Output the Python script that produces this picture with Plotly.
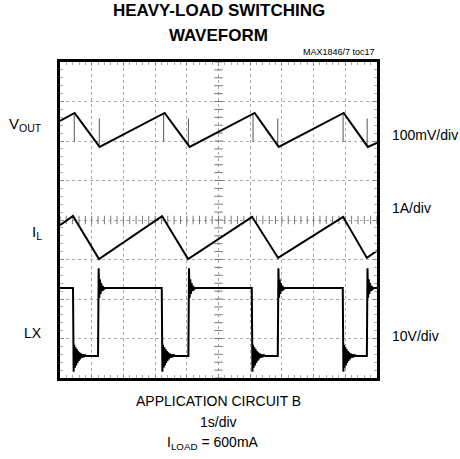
import numpy as np
import plotly.graph_objects as go

# ---------------- data (time in s = screen divisions, levels in screen divisions) ----------------
vout_t = [0.00, 0.46, 1.25, 3.30, 4.09, 6.14, 6.90, 8.95, 9.71, 10.00]
vout_y = [6.51, 6.71, 5.85, 6.71, 5.85, 6.71, 5.85, 6.71, 5.85, 5.95]

spike_t = [0.45, 1.24, 3.27, 4.05, 6.09, 6.87, 8.93, 9.69]
spike_from = [6.68, 5.90, 6.68, 5.90, 6.68, 5.90, 6.68, 5.90]
spike_to = [5.98, 6.57, 5.98, 6.57, 5.98, 6.57, 5.98, 6.57]

il_t = [0.00, 0.41, 1.23, 3.22, 4.04, 6.06, 6.88, 8.93, 9.68, 10.00]
il_y = [3.87, 4.10, 3.01, 4.10, 3.01, 4.08, 3.04, 4.08, 3.04, 3.22]

lx_high = 2.28
lx_low = 0.56
lx_fall_t = [0.41, 3.21, 6.05, 8.92]
lx_rise_t = [1.20, 4.05, 6.87, 9.68]

ring_fall_dt = [0.00, 0.02, 0.04, 0.06, 0.08, 0.10, 0.12, 0.14, 0.16, 0.18, 0.20, 0.23, 0.26, 0.29, 0.32, 0.36, 0.40]
ring_fall_dy = [-0.40, 0.28, -0.30, 0.22, -0.24, 0.17, -0.18, 0.12, -0.13, 0.09, -0.09, 0.06, -0.05, 0.04, -0.03, 0.02, 0.00]
ring_rise_dt = [0.00, 0.02, 0.04, 0.06, 0.08, 0.10, 0.13, 0.16, 0.20]
ring_rise_dy = [0.50, -0.25, 0.22, -0.15, 0.12, -0.08, 0.05, -0.03, 0.00]

# ---------------- build LX trace ----------------
lx_x, lx_y = [0.0], [lx_high]
for tf, tr in zip(lx_fall_t, lx_rise_t):
    lx_x.append(tf); lx_y.append(lx_high)
    for dt, dy in zip(ring_fall_dt, ring_fall_dy):
        lx_x.append(tf + 0.02 + dt); lx_y.append(lx_low + dy)
    lx_x.append(tr); lx_y.append(lx_low)
    for dt, dy in zip(ring_rise_dt, ring_rise_dy):
        if tr + 0.02 + dt <= 10:
            lx_x.append(tr + 0.02 + dt); lx_y.append(lx_high + dy)
lx_x.append(10.0); lx_y.append(lx_high)

sx, sy = [], []
for t, a, b in zip(spike_t, spike_from, spike_to):
    sx += [t, t, None]; sy += [a, b, None]

# ---------------- figure ----------------
W, H = 460, 459
L, R, T, B = 60, 377, 62, 378
fig = go.Figure()

# graticule centre-line ticks
ct = np.arange(0, 10.001, 0.2)
fig.add_trace(go.Scatter(x=ct, y=[4] * len(ct), mode="markers",
                         marker=dict(symbol="line-ns", size=6, line=dict(width=1, color="#777")),
                         hoverinfo="skip", showlegend=False))
cy = np.arange(0, 8.001, 0.2)
fig.add_trace(go.Scatter(x=[5] * len(cy), y=cy, mode="markers",
                         marker=dict(symbol="line-ew", size=6, line=dict(width=1, color="#777")),
                         hoverinfo="skip", showlegend=False))

fig.add_trace(go.Scatter(x=sx, y=sy, mode="lines", line=dict(color="#555", width=1),
                         showlegend=False, hoverinfo="skip"))
fig.add_trace(go.Scatter(x=vout_t, y=vout_y, mode="lines", line=dict(color="black", width=2),
                         showlegend=False))
fig.add_trace(go.Scatter(x=il_t, y=il_y, mode="lines", line=dict(color="black", width=2),
                         showlegend=False))
fig.add_trace(go.Scatter(x=lx_x, y=lx_y, mode="lines", line=dict(color="black", width=2),
                         showlegend=False))

axis_common = dict(showticklabels=False, showgrid=True, gridcolor="#aaa", griddash="dot",
                   gridwidth=1, zeroline=False, showline=True, linecolor="black", linewidth=3,
                   mirror="allticks", ticks="inside", ticklen=4, tickcolor="#888",
                   minor=dict(ticks="inside", ticklen=3, tickcolor="#aaa", showgrid=False))
fig.update_xaxes(range=[0, 10], dtick=1, **axis_common)
fig.update_yaxes(range=[0, 8], dtick=1, **axis_common)
fig.update_xaxes(minor_dtick=0.2)
fig.update_yaxes(minor_dtick=0.2)

pw, ph = R - L, B - T
def px(x):
    return (x - L) / pw
def py(y):
    return (B - y) / ph

base = dict(family="Liberation Sans, Arial, sans-serif", color="black", size=14)
titlef = dict(family="Liberation Sans, Arial, sans-serif", color="black", size=17)

ann = []
def add(text, x, y, xa="center", font=base):
    ann.append(dict(text=text, x=px(x), y=py(y), xref="paper", yref="paper",
                    xanchor=xa, yanchor="middle", showarrow=False, font=font))

add("<b>HEAVY-LOAD SWITCHING</b>", 219, 10.5, font=titlef)
add("<b>WAVEFORM</b>", 218, 35.5, font=titlef)
add("MAX1846/7 toc17", 377, 52, xa="right", font=dict(base, size=9))
add("V<sub>OUT</sub>", 44, 124, xa="right", font=dict(base, size=15))
add("I<sub>L</sub>", 44, 232, xa="right", font=dict(base, size=15))
add("LX", 44, 333, xa="right")
add("100mV/div", 390, 135, xa="left")
add("1A/div", 390, 208, xa="left")
add("10V/div", 390, 336, xa="left")
add("APPLICATION CIRCUIT B", 218, 401)
add("1s/div", 218, 422)
add("I<sub>LOAD</sub> = 600mA", 213, 443)

fig.update_layout(width=W, height=H, margin=dict(l=L, r=W - R, t=T, b=H - B),
                  paper_bgcolor="white", plot_bgcolor="white", annotations=ann)

fig.write_html("out.html", config={"displayModeBar": False},
               post_script="document.body.style.margin='0px';")
